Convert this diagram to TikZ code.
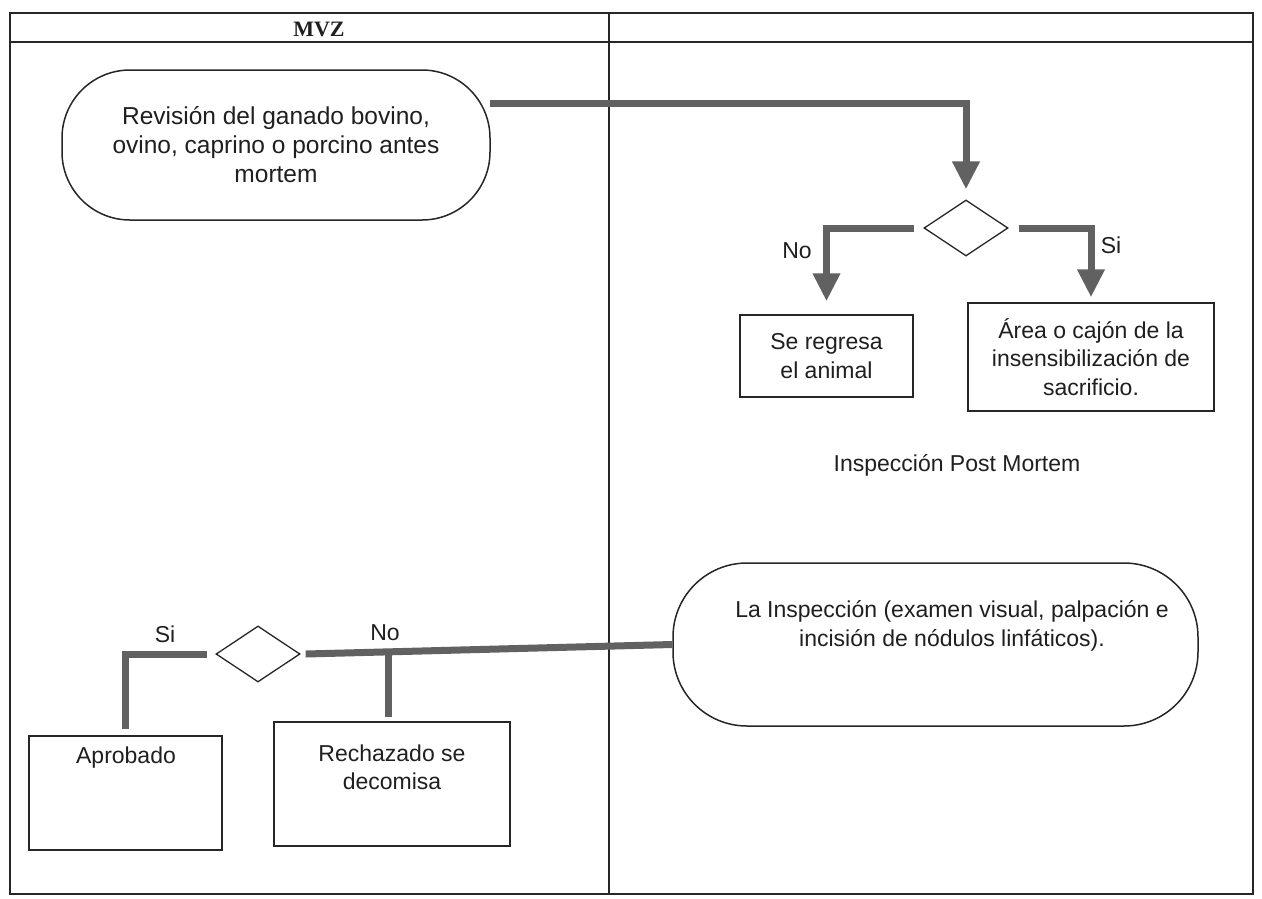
\documentclass[tikz,border=0pt]{standalone}
\usepackage{fontspec}
\setmainfont{Liberation Sans}
\newfontfamily\serifbold{Liberation Serif}
\usetikzlibrary{shapes.geometric,arrows.meta}
\begin{document}
\begin{tikzpicture}[x=1pt,y=-1pt,
 frame/.style={draw=black!85,line width=1.5pt},
 txt/.style={font=\fontsize{23}{28.5}\selectfont, text=black!88, align=center, inner sep=0pt},
 stadium/.style={draw=black!85,line width=1.5pt,rounded corners=68pt},
 boxn/.style={draw=black!85,line width=1.5pt,rectangle},
 decision/.style={draw=black!85,line width=1.3pt,diamond,inner sep=0pt,minimum width=84pt,minimum height=56pt},
 conn/.style={draw=black!62,line width=7pt},
 arr/.style={conn,-{Triangle[width=26pt,length=28pt]}},
 lbl/.style={font=\fontsize{23}{28}\selectfont,text=black!88,inner sep=0pt}
]
\useasboundingbox (0,0) rectangle (1262,898);
\fill[white] (0,0) rectangle (1262,898);

% table frame
\draw[frame] (10,13) rectangle (1253,894);
\draw[frame] (10,42) -- (1253,42);
\draw[frame] (609,13) -- (609,894);
\node[font=\serifbold\bfseries\fontsize{22}{26}\selectfont,text=black!88,inner sep=0pt] (mvz) at (319,29) {MVZ};

% top process
\node[stadium,txt,font=\fontsize{24.5}{29}\selectfont,minimum width=428pt,minimum height=150pt] (rev) at (276,145)
  {Revisión del ganado bovino,\\ovino, caprino o porcino antes\\mortem};
\coordinate (r1) at (490,103);
\node[decision] (d1) at (966,228) {};
\draw[arr] (r1) -| ([yshift=10pt]d1.north);

\node[boxn,txt,minimum width=173pt,minimum height=82pt] (reg) at (826.5,356) {Se regresa\\el animal};
\node[boxn,txt,minimum width=246pt,minimum height=108pt] (area) at (1091,357)
  {Área o cajón de la\\insensibilización de\\sacrificio.};
\draw[arr] ([xshift=-9pt]d1.west) -| ([yshift=13pt]reg.north);
\draw[arr] ([xshift=10pt]d1.east) -| ([yshift=5pt]area.north);
\node[lbl] (no1) at (797,251) {No};
\node[lbl] (si1) at (1111,245) {Si};

\node[txt] (pm) at (957,465) {Inspección Post Mortem};

% inspection
\node[stadium,minimum width=525pt,minimum height=163pt,rounded corners=74pt] (insp) at (935.5,644.5) {};
\node[txt] (insptxt) at (952,626) {La Inspección (examen visual, palpación e\\incisión de nódulos linfáticos).};

\node[decision] (d2) at (258,654) {};
\draw[conn] (insp.west) -- ([xshift=5pt]d2.east);

\node[boxn,minimum width=193pt,minimum height=114pt] (apr) at (125.5,793) {};
\node[txt] (aprtxt) at (126,758) {Aprobado};
\node[boxn,minimum width=236pt,minimum height=124pt] (rech) at (392,784) {};
\node[txt] (rechtxt) at (392,767.5) {Rechazado se\\decomisa};

\coordinate (nb) at (388,652);
\draw[conn,shorten >=4pt] (nb) -- (nb |- rech.north);
\draw[conn] ([xshift=-8pt]d2.west) -| ([yshift=6pt]apr.north);
\node[lbl] (no2) at (385,633) {No};
\node[lbl] (si2) at (165,634) {Si};
\end{tikzpicture}
\end{document}
